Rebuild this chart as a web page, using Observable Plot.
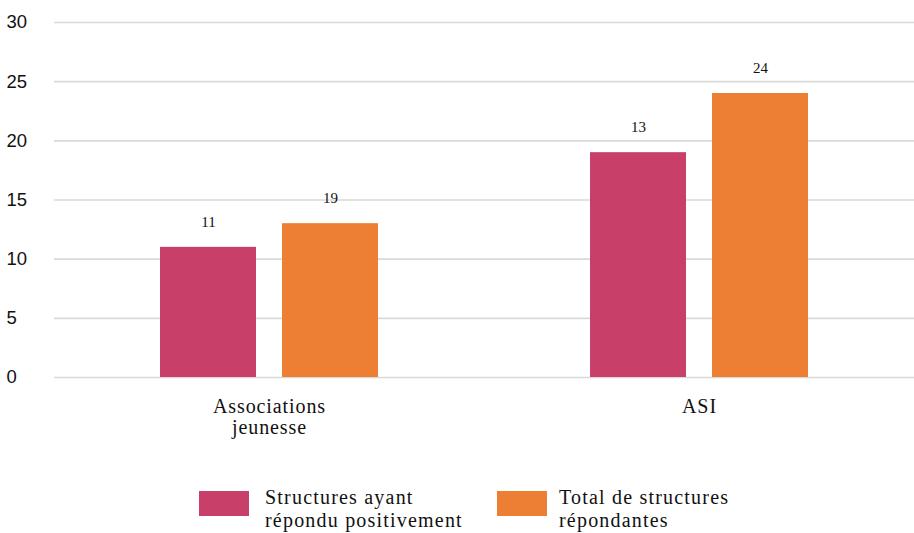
<!DOCTYPE html>
<html>
<head>
<meta charset="utf-8">
<script src="https://cdn.jsdelivr.net/npm/d3@7"></script>
<script src="https://cdn.jsdelivr.net/npm/@observablehq/plot@0.6"></script>
<style>
  html, body { margin: 0; padding: 0; background: #fff; }
  #wrap { position: relative; width: 914px; height: 533px; }
  #legend { position: absolute; top: 486px; left: 0; width: 914px; height: 47px;
            font-family: "Liberation Serif", serif; font-size: 20px; letter-spacing: 1.2px; color: #111; }
  .item { position: absolute; top: 0; display: flex; align-items: flex-start; }
  .sw { width: 50px; height: 25px; margin-top: 5px; }
  .lab { line-height: 23px; }
  g[aria-label="fx-axis tick label"] text { letter-spacing: 0.9px; }
</style>
</head>
<body>
<div id="wrap">
  <div id="chart"></div>
  <div id="legend"></div>
</div>
<script>
const categories = ["Associations\njeunesse", "ASI"];
const seriesNames = ["Structures ayant répondu positivement", "Total de structures répondantes"];
const seriesLegend = ["Structures ayant\nrépondu positivement", "Total de structures\nrépondantes"];
const colors = ["#C8406A", "#ED7F35"];
// bar heights as drawn
const positiveValues = [11, 19];
const totalValues = [13, 24];
// labels as printed on the reference
const positiveLabels = ["11", "13"];
const totalLabels = ["19", "24"];
const yTicks = [0, 5, 10, 15, 20, 25, 30];

const data = [];
categories.forEach((c, i) => {
  data.push({cat: c, series: seriesNames[0], value: positiveValues[i], label: positiveLabels[i]});
  data.push({cat: c, series: seriesNames[1], value: totalValues[i], label: totalLabels[i]});
});

const chart = Plot.plot({
  width: 914,
  height: 450,
  marginLeft: 53,
  marginRight: 0,
  marginTop: 22,
  marginBottom: 73,
  style: {background: "#fff", overflow: "visible"},
  y: {domain: [0, 30], ticks: yTicks, label: null},
  x: {domain: seriesNames, paddingInner: 0.21, paddingOuter: 0.86, axis: null},
  fx: {domain: categories, padding: 0, label: null},
  color: {domain: seriesNames, range: colors},
  marks: [
    Plot.ruleY(yTicks, {stroke: "#d9d9d9", strokeWidth: 1.6}),
    Plot.barY(data, {fx: "cat", x: "series", y: "value", fill: "series"}),
    Plot.text(data, {fx: "cat", x: "series", y: "value", text: "label", dy: -25,
      fontFamily: "Liberation Serif, serif", fontSize: 15, fill: "#111"}),
    Plot.axisY({ticks: yTicks, tickSize: 0, tickPadding: 3, textAnchor: "start", dx: -45,
      fontSize: 18.5, fontFamily: "Liberation Sans, Arial, sans-serif", fill: "#111", label: null}),
    Plot.axisFx({anchor: "bottom", tickSize: 0, tickPadding: 21, fontSize: 20, lineHeight: 1.05,
      fontFamily: "Liberation Serif, serif", fill: "#111", label: null})
  ]
});
document.getElementById("chart").appendChild(chart);

const legend = document.getElementById("legend");
const lefts = [199, 497];
const gaps = [16, 12];
seriesNames.forEach((s, i) => {
  const it = document.createElement("div");
  it.className = "item";
  it.style.left = lefts[i] + "px";
  const sw = document.createElement("div");
  sw.className = "sw";
  sw.style.background = colors[i];
  sw.style.marginRight = gaps[i] + "px";
  const lab = document.createElement("div");
  lab.className = "lab";
  lab.innerHTML = seriesLegend[i].split("\n").join("<br>");
  it.appendChild(sw);
  it.appendChild(lab);
  legend.appendChild(it);
});
</script>
</body>
</html>
